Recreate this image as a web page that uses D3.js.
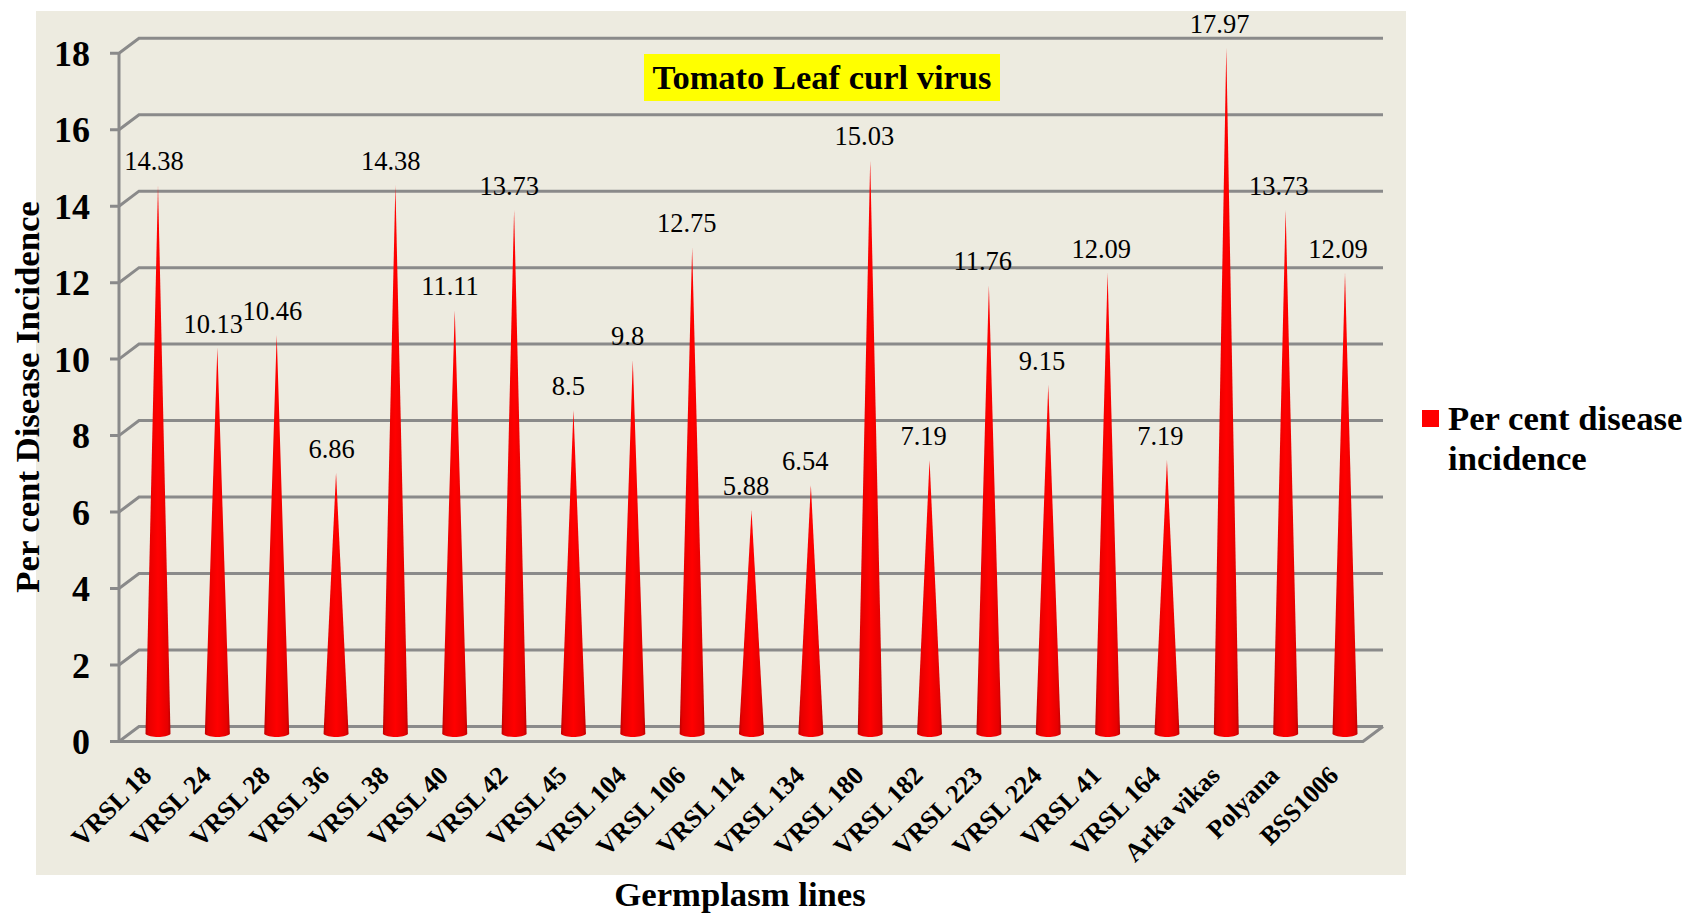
<!DOCTYPE html>
<html>
<head>
<meta charset="utf-8">
<script src="https://cdn.jsdelivr.net/npm/d3@7"></script>
<style>
  html, body { margin: 0; background: #fff; }
  text { font-family: "Liberation Serif", "Times New Roman", serif; fill: #000; }
</style>
</head>
<body>
<div id="chart"></div>
<script>
const lines = ["VRSL 18","VRSL 24","VRSL 28","VRSL 36","VRSL 38","VRSL 40","VRSL 42","VRSL 45","VRSL 104","VRSL 106","VRSL 114","VRSL 134","VRSL 180","VRSL 182","VRSL 223","VRSL 224","VRSL 41","VRSL 164","Arka vikas","Polyana","BSS1006"];
const incidence = [14.38,10.13,10.46,6.86,14.38,11.11,13.73,8.5,9.8,12.75,5.88,6.54,15.03,7.19,11.76,9.15,12.09,7.19,17.97,13.73,12.09];
const yTicks = [0,2,4,6,8,10,12,14,16,18];
const legendLines = ["Per cent disease","incidence"];

const width = 1688, height = 914;
const grey = "#8a8a8a";

const svg = d3.select("#chart").append("svg")
  .attr("width", width).attr("height", height)
  .style("display", "block");

// panel behind the chart
svg.append("rect")
  .attr("x", 36).attr("y", 11)
  .attr("width", 1370).attr("height", 864)
  .attr("fill", "#edebe0");

const defs = svg.append("defs");
const grad = defs.append("linearGradient").attr("id", "cone")
  .attr("x1", "0%").attr("x2", "100%").attr("y1", "0%").attr("y2", "0%");
[[0, "#bc0000"], [0.12, "#e60000"], [0.5, "#ff0000"], [0.88, "#e60000"], [1, "#bc0000"]]
  .forEach(([o, c]) => grad.append("stop").attr("offset", o).attr("stop-color", c));

// front plane of the axis, the wall sits 20px right and 15px up
const depthX = 20, depthY = 15;
const y = d3.scaleLinear().domain([0, 18]).range([741.5, 53.2]);
const x = d3.scalePoint().domain(lines).range([158, 1345]);
const labelX = d3.scalePoint().domain(lines).range([154, 1338]);
const coneY = d3.scaleLinear().domain([0, 18]).range([735, 46.7]);
const left = 119, right = 1363;

// walls
const grid = svg.append("g")
  .attr("fill", "none").attr("stroke", grey).attr("stroke-width", 3);
yTicks.forEach(t => {
  grid.append("path").attr("d", d3.line()([
    [left - 9, y(t)], [left, y(t)], [left + depthX, y(t) - depthY], [right + depthX, y(t) - depthY]
  ]));
});
grid.append("path").attr("d", d3.line()([[left, y(0)], [left, y(18)]]));
grid.append("path").attr("d", d3.line()([
  [left, y(0)], [right, y(0)], [right + depthX, y(0) - depthY]
]));

// cones
const halfW = 12.5;
svg.append("g").selectAll("path")
  .data(lines)
  .join("path")
  .attr("fill", "url(#cone)")
  .attr("d", (d, i) => {
    const cx = x(d), y0 = coneY(0), p = d3.path();
    p.moveTo(cx, coneY(incidence[i]));
    p.lineTo(cx + halfW, y0 - 1);
    p.bezierCurveTo(cx + halfW - 4, y0 + 3, cx - halfW + 4, y0 + 3, cx - halfW, y0 - 1);
    p.closePath();
    return p.toString();
  });

// value labels
svg.append("g").selectAll("text")
  .data(lines)
  .join("text")
  .attr("x", d => labelX(d))
  .attr("y", (d, i) => coneY(incidence[i]) - 15)
  .attr("text-anchor", "middle")
  .attr("font-size", 26.5)
  .text((d, i) => incidence[i]);

// y tick labels
svg.append("g").selectAll("text")
  .data(yTicks)
  .join("text")
  .attr("x", 90)
  .attr("y", d => y(d) + 12.5)
  .attr("text-anchor", "end")
  .attr("font-size", 36)
  .attr("font-weight", "bold")
  .text(d => d);

// category labels
svg.append("g").selectAll("text")
  .data(lines)
  .join("text")
  .attr("transform", d => `translate(${x(d) - 5},${777}) rotate(-45)`)
  .attr("text-anchor", "end")
  .attr("font-size", 26)
  .attr("font-weight", "bold")
  .text(d => d);

// axis titles
svg.append("text")
  .attr("transform", "translate(39,397) rotate(-90)")
  .attr("text-anchor", "middle")
  .attr("font-size", 34.7)
  .attr("font-weight", "bold")
  .text("Per cent Disease Incidence");

svg.append("text")
  .attr("x", 740).attr("y", 906)
  .attr("text-anchor", "middle")
  .attr("font-size", 34.7)
  .attr("font-weight", "bold")
  .text("Germplasm lines");

// chart title on yellow box
svg.append("rect")
  .attr("x", 644).attr("y", 54)
  .attr("width", 356).attr("height", 47)
  .attr("fill", "#ffff00");
svg.append("text")
  .attr("x", 822).attr("y", 89)
  .attr("text-anchor", "middle")
  .attr("font-size", 34.5)
  .attr("font-weight", "bold")
  .text("Tomato Leaf curl virus");

// legend
svg.append("rect")
  .attr("x", 1422).attr("y", 410)
  .attr("width", 17).attr("height", 17)
  .attr("fill", "#ff0000");
svg.append("g").selectAll("text")
  .data(legendLines)
  .join("text")
  .attr("x", 1448)
  .attr("y", (d, i) => 430 + i * 40)
  .attr("font-size", 34.7)
  .attr("font-weight", "bold")
  .text(d => d);
</script>
</body>
</html>
